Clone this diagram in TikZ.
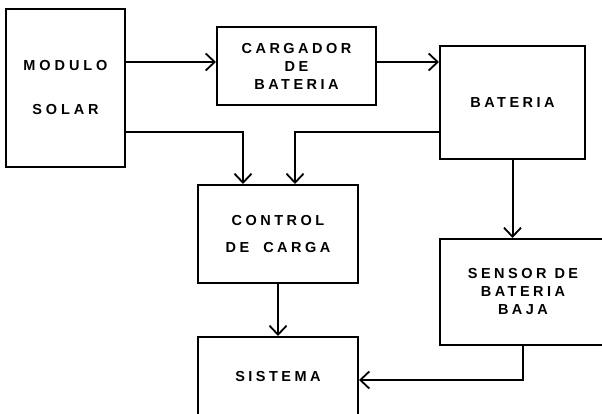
\documentclass[tikz,border=0pt]{standalone}
\usepackage{fontspec}
\newfontfamily\lblfont[LetterSpace=24]{Liberation Sans}
\usetikzlibrary{arrows.meta,calc}
\begin{document}
\begin{tikzpicture}[x=1pt,y=-1pt,
  blk/.style={draw=black,line width=2pt,rectangle,inner sep=0pt,align=center,
    font=\lblfont\bfseries\fontsize{14.5pt}{18pt}\selectfont},
  arr/.style={draw=black,line width=2pt,-{Straight Barb[length=9pt,width=17pt,line width=1.8pt]}}]
\useasboundingbox (0,0) rectangle (602,414);
\fill[white] (0,0) rectangle (602,414);
\node[blk,minimum width=119pt,minimum height=158pt] (mod) at (65.5,88) {\addfontfeatures{LetterSpace=27}MODULO\\[26pt]\addfontfeatures{LetterSpace=27}SOLAR};
\node[blk,minimum width=159pt,minimum height=78pt] (carg) at (296.5,66) {CARGADOR\\DE\\BATERIA};
\node[blk,minimum width=145pt,minimum height=113pt] (bat) at (512.5,102.5) {BATERIA};
\node[blk,minimum width=160pt,minimum height=98pt] (ctrl) at (278,234) {CONTROL\\[9pt]DE\hspace{14pt}CARGA};
\node[blk,minimum width=166pt,minimum height=106pt] (sens) at (523,292) {SENSOR\hspace{8pt}DE\\BATERIA\\BAJA};
\node[blk,minimum width=160pt,minimum height=80pt] (sist) at (278,377) {SISTEMA};
\coordinate (a1) at ($(carg.west)+(0,-4)$);
\coordinate (a2) at ($(carg.east)+(0,-4)$);
\draw[arr] (mod.east |- a1) -- (a1);
\draw[arr] (a2) -- (a2 -| bat.west);
\draw[arr] ($(mod.east)+(0,44)$) -| ($(ctrl.north)+(-35,0)$);
\draw[arr] ($(bat.west)+(0,30)$) -| ($(ctrl.north)+(17,0)$);
\draw[arr] (bat.south) -- (bat.south |- sens.north);
\draw[arr] (ctrl.south) -- (sist.north);
\draw[arr] (sens.south) |- ($(sist.east)+(0,3)$);
\end{tikzpicture}
\end{document}
